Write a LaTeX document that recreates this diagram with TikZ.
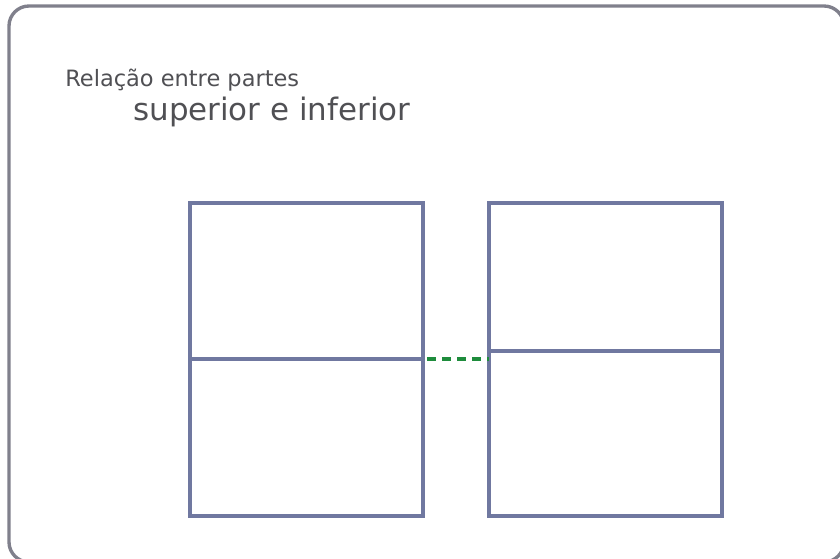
\documentclass[tikz,border=0pt]{standalone}
\usepackage{fontspec}
\setmainfont{DejaVu Sans}
\usetikzlibrary{positioning, calc}
\definecolor{framegray}{RGB}{128,128,140}
\definecolor{partblue}{RGB}{112,120,160}
\definecolor{textgray}{RGB}{80,80,84}
\definecolor{linkgreen}{RGB}{30,140,60}

\begin{document}
\begin{tikzpicture}[x=0.25mm, y=-0.25mm,
    part/.style={draw=partblue, line width=2.2pt, inner sep=0pt, outer sep=0pt,
        anchor=north west, minimum width=58.25mm},
    caption/.style={anchor=base west, text=textgray, inner sep=0pt}]%
    \useasboundingbox (0,0) rectangle (840,559);
    \def\boxTop{203}
    \def\boxBot{516}
    % outer frame, partly cut off on the right and bottom
    \draw [framegray, line width=2.4pt, rounded corners=5mm, fill=white] (9,6) rectangle (844,562);
    \node (titleA) [caption, font=\fontsize{16}{18}\selectfont] at (65,87) {Relação entre partes};
    \node (titleB) [caption, font=\fontsize{22}{24}\selectfont] at (133,121) {superior e inferior};
    \foreach \name/\x/\mid in {l/190/359, r/489/351}{
        \pgfmathsetmacro\hTop{(\mid - \boxTop)*0.25}
        \pgfmathsetmacro\hBot{(\boxBot - \mid)*0.25}
        \node (\name-top) [part, minimum height=\hTop mm] at (\x, \boxTop) {};
        \node (\name-bot) [part, minimum height=\hBot mm] at (\x, \mid) {};
    }
    \draw [linkgreen, line width=2.4pt, dash pattern=on 2.25mm off 1.5mm, dash phase=-1mm] (l-top.south east) -- (r-top.west |- l-top.south east);
\end{tikzpicture}
\end{document}
